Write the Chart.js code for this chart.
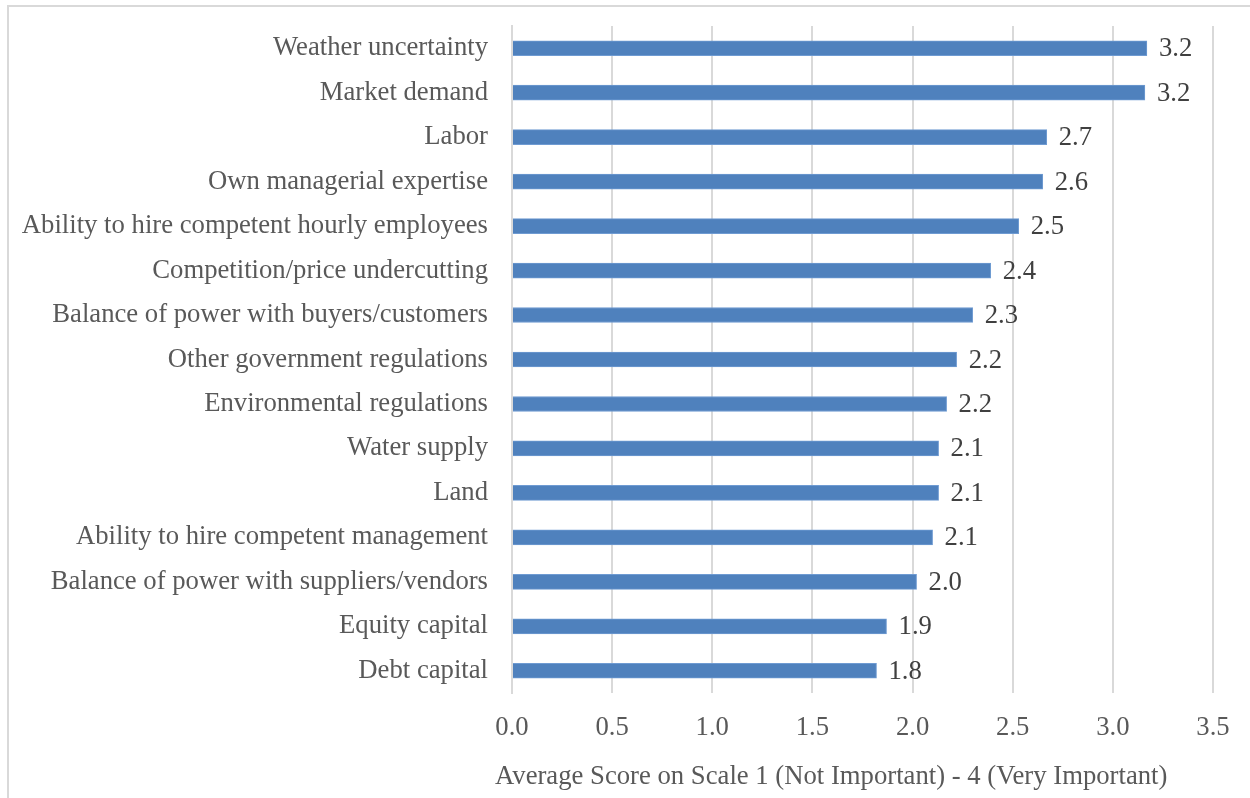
<!DOCTYPE html>
<html>
<head>
<meta charset="utf-8">
<script src="https://cdn.jsdelivr.net/npm/chart.js@4"></script>
<style>
  body { margin: 0; background: #fff; }
  .frame { position: absolute; left: 7px; top: 5px; width: 1260px; height: 810px; border: 2px solid #d9d9d9; box-sizing: border-box; }
  .wrap { position: absolute; left: 0; top: 0; width: 1250px; height: 798px; }
</style>
</head>
<body>
<div class="frame"></div>
<div class="wrap"><canvas id="bar-chart"></canvas></div>
<script>
//DATA
const categories = [
  "Weather uncertainty",
  "Market demand",
  "Labor",
  "Own managerial expertise",
  "Ability to hire competent hourly employees",
  "Competition/price undercutting",
  "Balance of power with buyers/customers",
  "Other government regulations",
  "Environmental regulations",
  "Water supply",
  "Land",
  "Ability to hire competent management",
  "Balance of power with suppliers/vendors",
  "Equity capital",
  "Debt capital"
];
const scores = [3.17, 3.16, 2.67, 2.65, 2.53, 2.39, 2.30, 2.22, 2.17, 2.13, 2.13, 2.10, 2.02, 1.87, 1.82];
const xTicks = [0, 0.5, 1, 1.5, 2, 2.5, 3, 3.5];
const axisTitle = "Average Score on Scale 1 (Not Important) - 4 (Very Important)";

const font = "'Liberation Serif', 'Times New Roman', serif";
const size = 26.7;

//VALUE LABELS + AXIS TITLE (no datalabels plugin offline)
const valueLabels = {
  id: 'valueLabels',
  afterDatasetsDraw(chart) {
    const ctx = chart.ctx;
    ctx.save();
    ctx.font = size + "px " + font;
    ctx.fillStyle = "#404040";
    ctx.textAlign = "left";
    ctx.textBaseline = "middle";
    chart.getDatasetMeta(0).data.forEach((bar, i) => {
      ctx.fillText(scores[i].toFixed(1), bar.x + 12, bar.y + 1);
    });
    // axis title, Excel puts it a bit left of the plot centre
    ctx.fillStyle = "#595959";
    ctx.fillText(axisTitle, chart.chartArea.left - 17, chart.chartArea.bottom + 84);
    ctx.restore();
  }
};

new Chart(document.getElementById("bar-chart"), {
  type: 'bar',
  data: {
    labels: categories,
    datasets: [{
      data: scores,
      backgroundColor: "#4f81bd",
      borderColor: "#6f9bd2",
      borderWidth: 1,
      barThickness: 15
    }]
  },
  options: {
    indexAxis: 'y',
    responsive: true,
    maintainAspectRatio: false,
    animation: false,
    layout: { padding: { top: 26, right: 37, left: 0, bottom: 0 } },
    plugins: {
      legend: { display: false },
      tooltip: { enabled: false }
    },
    scales: {
      x: {
        min: 0,
        max: 3.5,
        afterFit: (s) => { s.height = 105; },
        afterBuildTicks: (s) => { s.ticks = xTicks.map(v => ({ value: v })); },
        ticks: {
          padding: 19,
          color: "#595959",
          font: { family: font, size: size },
          callback: (v) => Number(v).toFixed(1)
        },
        grid: { color: "#d9d9d9", lineWidth: 2, drawTicks: false },
        border: { display: false }
      },
      y: {
        afterFit: (s) => { s.width = 512; },
        ticks: {
          padding: 0,
          color: "#595959",
          font: { family: font, size: size }
        },
        // invisible tick marks give the label gap without padding the top
        grid: { drawOnChartArea: false, drawTicks: true, tickLength: 24, tickColor: "rgba(0,0,0,0)" },
        border: { color: "#d9d9d9", width: 2 }
      }
    }
  },
  plugins: [valueLabels]
});
</script>
</body>
</html>
